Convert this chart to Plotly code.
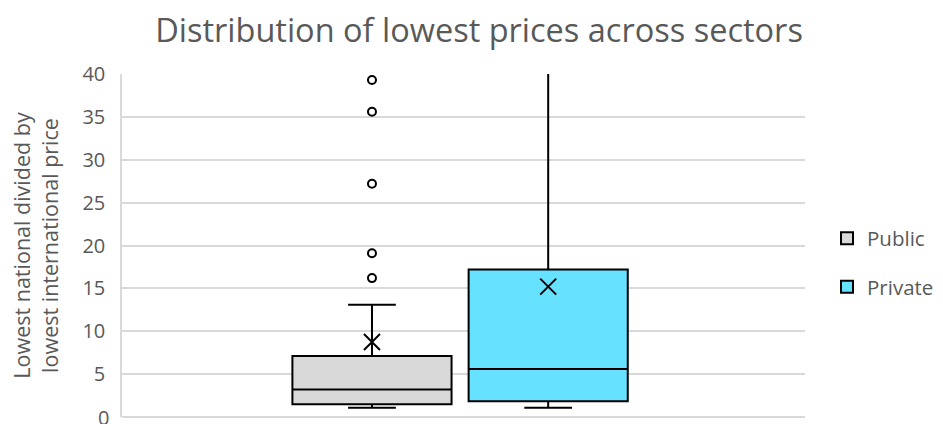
import plotly.graph_objects as go

# Summary statistics per sector (lowest national / lowest international price)
sectors = ["Public", "Private"]
q1 = [1.5, 1.85]
median = [3.2, 5.6]
q3 = [7.1, 17.2]
lower_whisker = [1.08, 1.08]
upper_whisker = [13.1, 40.2]
means = [8.75, 15.2]
public_outliers = [16.2, 19.1, 27.2, 35.6, 39.3]

fills = ["#d9d9d9", "#66e1ff"]
positions = [0.366, 0.624]
box_width = 0.233

fig = go.Figure()

for i, name in enumerate(sectors):
    fig.add_trace(go.Box(
        name=name,
        x=[positions[i]],
        q1=[q1[i]], median=[median[i]], q3=[q3[i]],
        lowerfence=[lower_whisker[i]], upperfence=[upper_whisker[i]],
        width=box_width,
        whiskerwidth=0.3,
        fillcolor=fills[i],
        line=dict(color="black", width=2),
        boxpoints=False,
        legendgroup=name,
        hoverinfo="skip",
    ))

# Mean markers
fig.add_trace(go.Scatter(
    x=positions, y=means, mode="markers", showlegend=False,
    marker=dict(symbol="x-thin-open", size=16, color="black",
                line=dict(color="black", width=2)),
    hoverinfo="skip", cliponaxis=False,
))

# Outliers for the public sector
fig.add_trace(go.Scatter(
    x=[positions[0]] * len(public_outliers), y=public_outliers,
    mode="markers", showlegend=False,
    marker=dict(symbol="circle-open", size=8, color="black", line=dict(color="black", width=2)),
    hoverinfo="skip",
))

font_family = "Open Sans, Lato, sans-serif"
text_color = "#595959"

# The baseline tick label sits on the lower edge of the chart
fig.add_annotation(
    text="0", xref="paper", x=0, xanchor="right", xshift=-11,
    yref="y", y=0, yanchor="middle", showarrow=False,
    font=dict(family=font_family, size=20, color=text_color),
)

fig.update_layout(
    width=943, height=424,
    margin=dict(l=122, r=138, t=74, b=7),
    paper_bgcolor="white", plot_bgcolor="white",
    title=dict(
        text="Distribution of lowest prices across sectors",
        x=0.508, xanchor="center", y=0.928, yanchor="middle",
        xref="container",
        font=dict(family=font_family, size=32.5, color=text_color),
    ),
    showlegend=True,
    legend=dict(
        xref="container", yref="container",
        x=0.877, xanchor="left", y=0.38, yanchor="middle",
        font=dict(family=font_family, size=20.5, color=text_color),
        tracegroupgap=19,
        bgcolor="rgba(0,0,0,0)",
    ),
    xaxis=dict(
        range=[0, 1], showticklabels=False, showgrid=False, zeroline=False,
        showline=False, fixedrange=True,
    ),
    yaxis=dict(
        range=[0, 40], tick0=0, dtick=5,
        showgrid=True, gridcolor="#d9d9d9", gridwidth=1.5,
        zeroline=True, zerolinecolor="#d9d9d9", zerolinewidth=1.5,
        showline=True, linecolor="#d9d9d9", linewidth=1.5,
        tickfont=dict(family=font_family, size=20, color=text_color),
        ticks="", ticklabelstandoff=11,
        title=dict(
            text="Lowest national divided by<br>lowest international price",
            font=dict(family=font_family, size=21.5, color=text_color),
            standoff=18,
        ),
    ),
)

fig.write_html("out.html")
